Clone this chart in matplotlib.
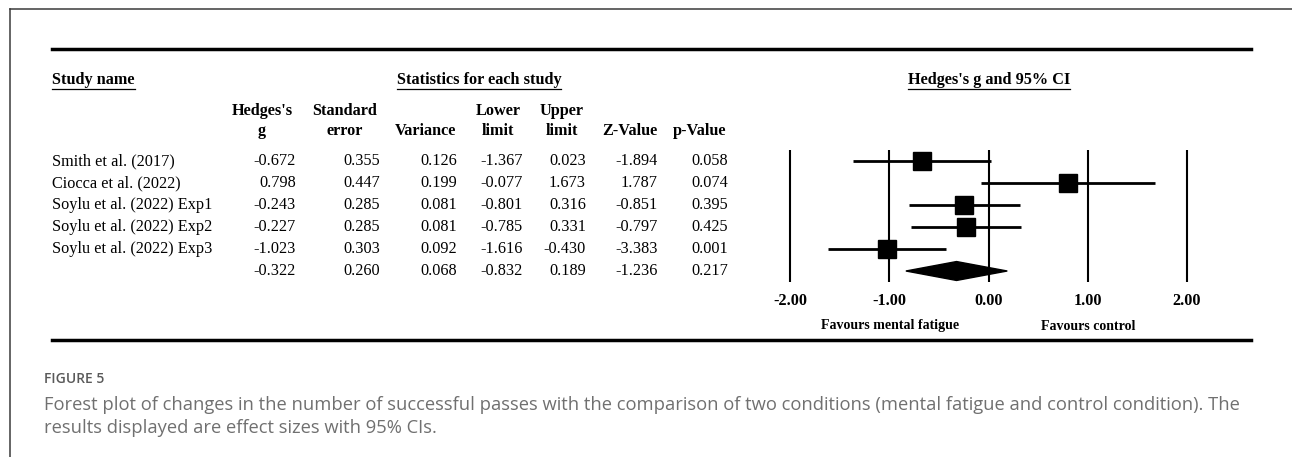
import numpy as np
import matplotlib.pyplot as plt
from matplotlib.lines import Line2D
from matplotlib.patches import Polygon

W, H = 1292, 457

studies = ["Smith et al. (2017)", "Ciocca et al. (2022)", "Soylu et al. (2022) Exp1",
           "Soylu et al. (2022) Exp2", "Soylu et al. (2022) Exp3", ""]
hedges_g = [-0.672, 0.798, -0.243, -0.227, -1.023, -0.322]
std_err = [0.355, 0.447, 0.285, 0.285, 0.303, 0.260]
variance = [0.126, 0.199, 0.081, 0.081, 0.092, 0.068]
lower = [-1.367, -0.077, -0.801, -0.785, -1.616, -0.832]
upper = [0.023, 1.673, 0.316, 0.331, -0.430, 0.189]
z_value = [-1.894, 1.787, -0.851, -0.797, -3.383, -1.236]
p_value = [0.058, 0.074, 0.395, 0.425, 0.001, 0.217]

headers = [("Hedges's", "g"), ("Standard", "error"), ("", "Variance"), ("Lower", "limit"),
           ("Upper", "limit"), ("", "Z-Value"), ("", "p-Value")]
xticks = [-2, -1, 0, 1, 2]

caption_title = "FIGURE 5"
caption_lines = ["Forest plot of changes in the number of successful passes with the comparison of two "
                 "conditions (mental fatigue and control condition). The",
                 "results displayed are effect sizes with 95% CIs."]

SERIF = ["Liberation Serif", "DejaVu Serif"]
FS = 11.7


def fx(x):
    return x / W


def fy(y):
    return 1 - y / H


fig = plt.figure(figsize=(W / 100, H / 100), dpi=100)

# frame on the left and top
fig.add_artist(Line2D([fx(10), 1], [fy(9), fy(9)], color="#3a3a3a", lw=1.1))
fig.add_artist(Line2D([fx(10), fx(10)], [fy(9), 0], color="#3a3a3a", lw=1.1))

# heavy rules above and below the table
for yy in (49, 340):
    fig.add_artist(Line2D([fx(52), fx(1251)], [fy(yy), fy(yy)], color="black", lw=2.5))

renderer = fig.canvas.get_renderer()


def underlined(x, y, s, ha):
    t = fig.text(fx(x), fy(y), s, ha=ha, va="center", family=SERIF, fontsize=FS,
                 fontweight="bold")
    bb = t.get_window_extent(renderer)
    fig.add_artist(Line2D([bb.x0 / W, bb.x1 / W], [fy(89), fy(89)], color="black", lw=0.9))
    return t


underlined(52, 80, "Study name", "left")
underlined(479, 80, "Statistics for each study", "center")
underlined(989, 80, "Hedges's g and 95% CI", "center")

# column headers and numbers
head_x = [262, 345, 426, 498, 562, 630, 700]
right_x = [296, 380, 457, 523, 586, 658, 728]
columns = [hedges_g, std_err, variance, lower, upper, z_value, p_value]
row_y = [161 + 22 * i for i in range(len(studies))]

for hx, (h1, h2) in zip(head_x, headers):
    for yy, s in ((111, h1), (131, h2)):
        if s:
            fig.text(fx(hx), fy(yy), s, ha="center", va="center", family=SERIF,
                     fontsize=FS, fontweight="bold")

for i, name in enumerate(studies):
    fig.text(fx(52), fy(row_y[i]), name, ha="left", va="center", family=SERIF, fontsize=FS)
    for rx, col in zip(right_x, columns):
        fig.text(fx(rx), fy(row_y[i]), f"{col[i]:.3f}", ha="right", va="center",
                 family=SERIF, fontsize=FS)

# forest plot
ax = fig.add_axes([fx(780), fy(282), fx(1197) - fx(780), (282 - 150) / H])
ax.set_xlim(-2.1, 2.1)
ax.set_ylim(6, 0)
for s in ax.spines.values():
    s.set_visible(False)
ax.patch.set_alpha(0)
for v in xticks:
    ax.axvline(v, color="black", lw=1.5)

for i in range(5):
    yv = i + 0.5
    ax.plot([lower[i], upper[i]], [yv, yv], color="black", lw=2.0, solid_capstyle="butt")
    ax.plot(hedges_g[i], yv, marker="s", ms=12.5, color="black", mec="black")

yd = 5.5
ax.add_patch(Polygon([[lower[5], yd], [hedges_g[5], yd - 0.43], [upper[5], yd],
                      [hedges_g[5], yd + 0.43]], closed=True, color="black"))

ax.set_yticks([])
ax.set_xticks(xticks)
ax.set_xticklabels([f"{v:.2f}" for v in xticks], family=SERIF, fontsize=FS, fontweight="bold")
ax.tick_params(axis="x", length=0, pad=8)

fig.text(fx(890), fy(326), "Favours mental fatigue", ha="center", va="center", family=SERIF,
         fontsize=10, fontweight="bold")
fig.text(fx(1088), fy(326), "Favours control", ha="center", va="center", family=SERIF,
         fontsize=10, fontweight="bold")

# caption
fig.text(fx(44), fy(379), caption_title, ha="left", va="center", family="Open Sans",
         fontsize=10, fontweight="semibold", color="#5a5a5a")
for yy, line in zip((405, 428), caption_lines):
    fig.text(fx(44), fy(yy), line, ha="left", va="center", family="Open Sans", fontsize=13.2,
             color="#707070")

fig.savefig("out.png", dpi=100)
